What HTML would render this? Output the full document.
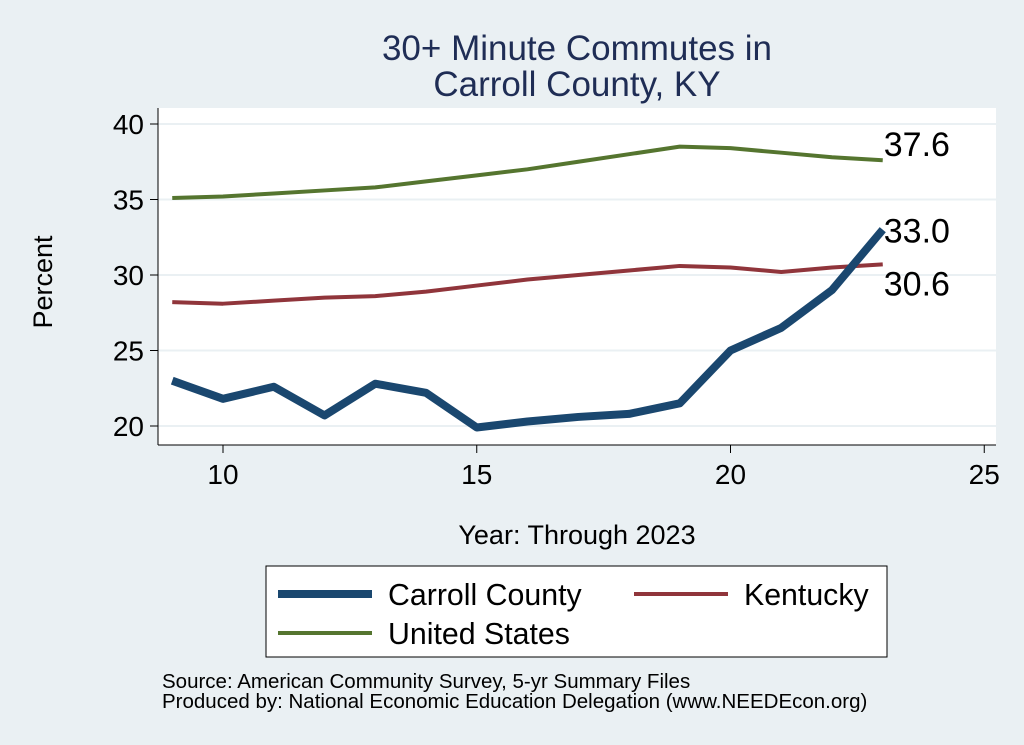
<!DOCTYPE html>
<html><head><meta charset="utf-8"><style>
body{margin:0;background:#eaf0f3;}
svg{display:block;font-family:"Liberation Sans",Arial,sans-serif;}
</style></head><body>
<svg id="chart" width="1024" height="745">
<rect x="0" y="0" width="1024" height="745" fill="#eaf0f3"/>
<rect x="158" y="108" width="838" height="337" fill="#ffffff"/>
<text x="577" y="60" text-anchor="middle" font-size="35" fill="#1f2d55">30+ Minute Commutes in</text>
<text x="577" y="96" text-anchor="middle" font-size="35" fill="#1f2d55">Carroll County, KY</text>
<g id="grid"></g><g id="axes"></g><g id="series"></g>
<text x="52" y="282" text-anchor="middle" font-size="27" transform="rotate(-90 52 282)">Percent</text>
<text x="577" y="544" text-anchor="middle" font-size="27">Year: Through 2023</text>
<g>
<rect x="266" y="566" width="621" height="91" fill="#fff" stroke="#000" stroke-width="1"/>
<line x1="278" y1="594" x2="372" y2="594" stroke="#1a476f" stroke-width="8"/>
<text x="388" y="605" font-size="30.3">Carroll County</text>
<line x1="634" y1="594" x2="728" y2="594" stroke="#90353b" stroke-width="4"/>
<text x="744" y="605" font-size="30.3">Kentucky</text>
<line x1="278" y1="633" x2="372" y2="633" stroke="#55752f" stroke-width="4"/>
<text x="388" y="644" font-size="30.3">United States</text>
</g>
<text x="162" y="688" font-size="20.5">Source: American Community Survey, 5-yr Summary Files</text>
<text x="162" y="708" font-size="20.5">Produced by: National Economic Education Delegation (www.NEEDEcon.org)</text>
</svg>
<script>
const years=[9,10,11,12,13,14,15,16,17,18,19,20,21,22,23];
const carroll=[23.0,21.8,22.6,20.7,22.8,22.2,19.9,20.3,20.6,20.8,21.5,25.0,26.5,29.0,33.0];
const kentucky=[28.2,28.1,28.3,28.5,28.6,28.9,29.3,29.7,30.0,30.3,30.6,30.5,30.2,30.5,30.7];
const us=[35.1,35.2,35.4,35.6,35.8,36.2,36.6,37.0,37.5,38.0,38.5,38.4,38.1,37.8,37.6];
const labels=["33.0","30.6","37.6"];
const xTicks=[10,15,20,25];
const yTicks=[20,25,30,35,40];
const NS="http://www.w3.org/2000/svg";
function X(v){return 223+(v-10)*50.75;}
function Y(v){return 426-(v-20)*15.1;}
function mk(t,a,p){const e=document.createElementNS(NS,t);for(const k in a)e.setAttribute(k,a[k]);p.appendChild(e);return e;}
const grid=document.getElementById('grid'),axes=document.getElementById('axes'),ser=document.getElementById('series');
mk('line',{x1:158,y1:445,x2:996,y2:445,stroke:'#000','stroke-width':1},axes);
mk('line',{x1:158,y1:108,x2:158,y2:445,stroke:'#000','stroke-width':1},axes);
yTicks.forEach(t=>{
 const g=mk('line',{x1:158,y1:Y(t),x2:996,y2:Y(t),stroke:'#eaf0f3','stroke-width':2},grid);
 
 
 mk('line',{x1:150,y1:Y(t),x2:158,y2:Y(t),stroke:'#000'},axes);
 const tx=mk('text',{x:144,y:Y(t)+10,'text-anchor':'end','font-size':28},axes);tx.textContent=t;
 
 
});
xTicks.forEach(t=>{
 mk('line',{x1:X(t),y1:445,x2:X(t),y2:453,stroke:'#000'},axes);
 const tx=mk('text',{x:X(t),y:484,'text-anchor':'middle','font-size':28},axes);tx.textContent=t;
 
 
});
function line(data,color,w,name){
 const p=mk('polyline',{points:years.map((y,i)=>X(y)+','+Y(data[i])).join(' '),fill:'none',stroke:color,'stroke-width':w,'stroke-linejoin':'round'},ser);
 
 
}
line(us,'#55752f',4,'line-united-states');
line(kentucky,'#90353b',4,'line-kentucky');
line(carroll,'#1a476f',8,'line-carroll-county');
const L=years.length-1;
[[carroll,0,1],[kentucky,1,19],[us,2,-16]].forEach(([d,i,dy])=>{
 const t=mk('text',{x:X(years[L])+1,y:Y(d[L])+dy+12,'font-size':34},ser);t.textContent=labels[i];
 
 
});
</script>
</body></html>
